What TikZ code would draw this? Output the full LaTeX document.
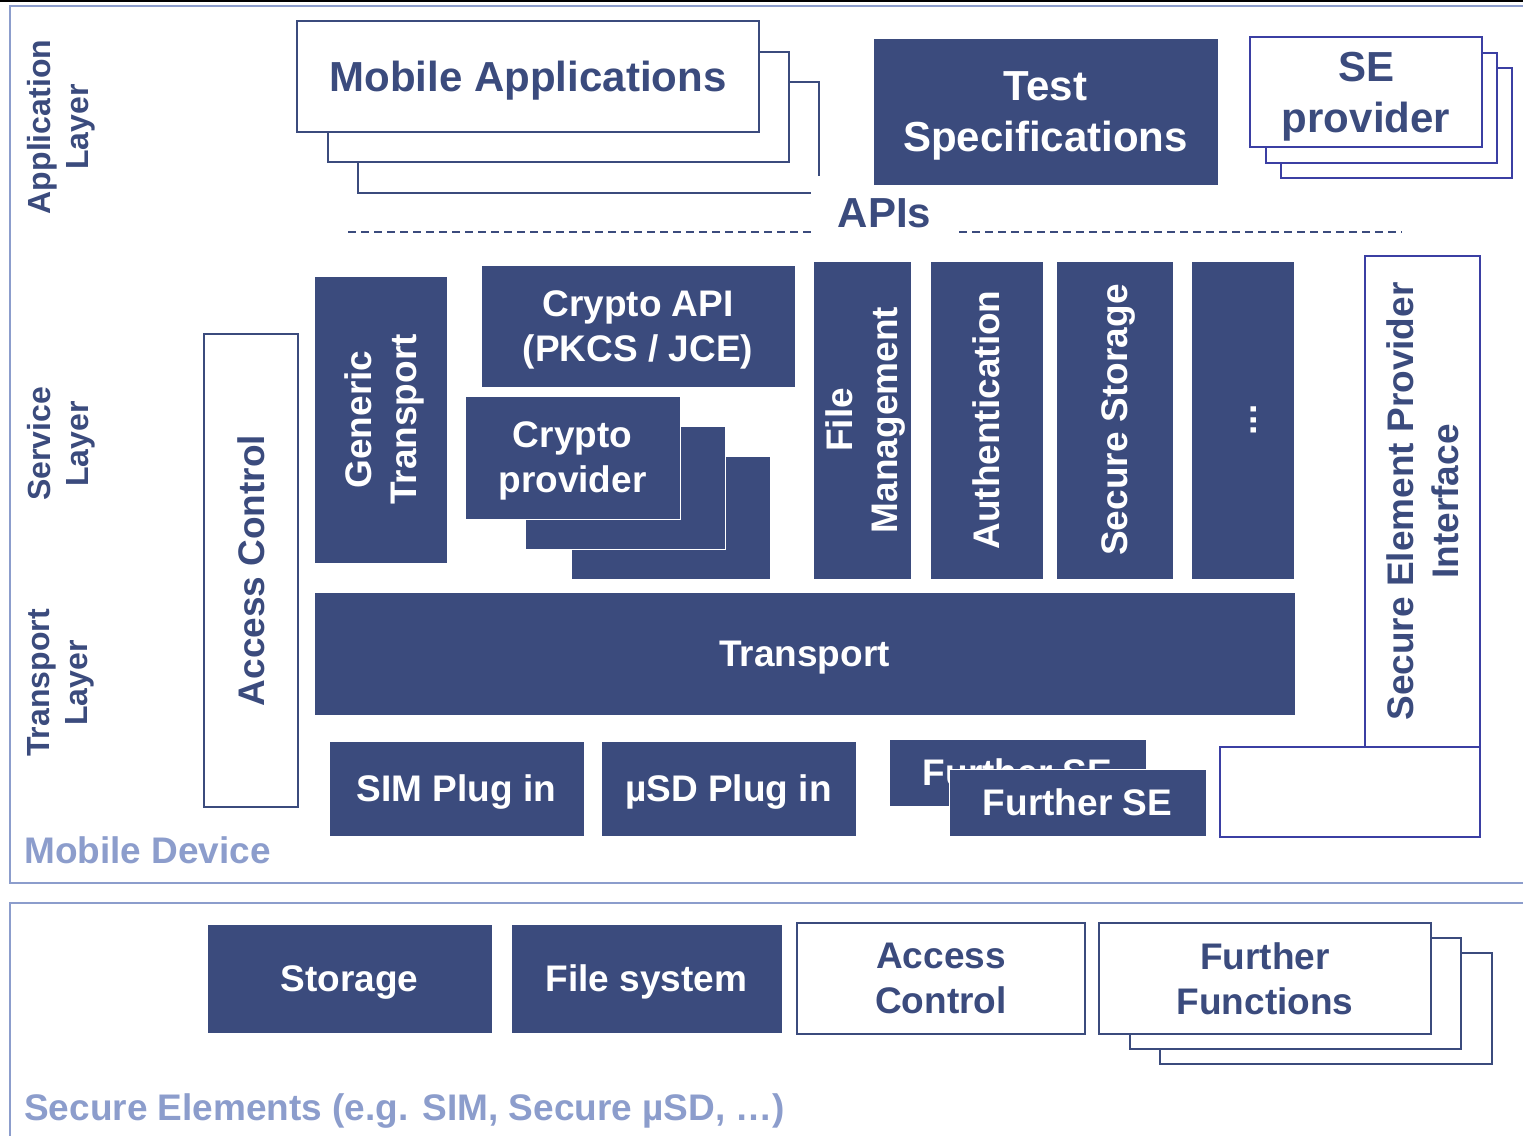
\documentclass[tikz,border=0pt]{standalone}
\usepackage{fontspec}
\setmainfont{Liberation Sans}
\definecolor{navy}{HTML}{3B4B7D}
\definecolor{frameblue}{HTML}{8C9DCC}
\definecolor{violetblue}{HTML}{3B3FA3}

\tikzset{
  sz/.style 2 args={minimum width=#1pt, minimum height=#2pt},
  box/.style={rectangle, inner sep=0pt, align=center, text depth=0pt,
    font=\bfseries\fontsize{37}{45}\selectfont},
  big/.style={font=\bfseries\fontsize{42}{51}\selectfont},
  solidbox/.style={box, fill=navy, draw=white, line width=1pt, text=white},
  openbox/.style={box, fill=white, draw=navy, line width=2pt, text=navy},
  sebox/.style={box, fill=white, draw=violetblue, line width=2pt, text=navy},
  layerlabel/.style={rotate=90, align=center, inner sep=0pt, text=navy,
    font=\bfseries\fontsize{32}{38}\selectfont},
  sectionlabel/.style={anchor=west, inner sep=0pt, text=frameblue,
    font=\bfseries\fontsize{37}{44}\selectfont},
  frame/.style={draw=frameblue, line width=2pt},
}

\begin{document}
\begin{tikzpicture}[x=1pt, y=-1pt]
  \useasboundingbox (0,0) rectangle (1523,1135);
  \clip (0,0) rectangle (1523,1135);

  % outer frames
  \draw[black, line width=2pt] (0,1) -- (1523,1);
  \draw[frame] (10,6) rectangle (1540,883);
  \draw[frame] (10,903) rectangle (1540,1150);

  % layer captions
  \node[layerlabel] (lapp) at (61,127) {Application\\Layer};
  \node[layerlabel] (lsvc) at (61,444) {Service\\Layer};
  \node[layerlabel] (ltrp) at (61,683) {Transport\\Layer};

  % application layer
  \node[openbox, sz={461}{111}] (ma3) at (588.5,137.5) {};
  \node[openbox, sz={461}{110}] (ma2) at (558.5,107) {};
  \node[openbox, big, sz={462}{111}] (ma1) at (528,76.5) {Mobile Applications};

  \coordinate (apiL) at (348,232);
  \coordinate (apiR) at (1402,232);
  \draw[navy, line width=1.5pt, dash pattern=on 8pt off 5pt] (apiL) -- (apiR);
  \node[fill=white, inner sep=0pt, text=navy, big, text depth=0pt, sz={147}{74}] (apis) at (884.5,213) {APIs};

  \node[solidbox, big, sz={345}{147}] (tspec) at (1045.5,111.5) {Test\\Specifications};

  \node[sebox, sz={231}{110}] (se3) at (1396.5,123) {};
  \node[sebox, sz={231}{110}] (se2) at (1381.5,108) {};
  \node[sebox, big, sz={232}{110}] (se1) at (1366,92) {SE\\provider};

  % service layer
  \node[openbox, rotate=90, sz={473}{94}] (acm) at (251,570.5) {Access Control};
  \node[solidbox, rotate=90, sz={287}{133}] (gtr) at (380.5,419.5) {Generic\\Transport};
  \node[solidbox, sz={314}{122}] (capi) at (638,326) {Crypto API\\(PKCS / JCE)};

  \node[solidbox, sz={199}{123}] (cp3) at (670.5,517.5) {};
  \node[solidbox, sz={200}{123}] (cp2) at (625,487.5) {};
  \node[solidbox, sz={215}{123}] (cp1) at (572.5,457.5) {Crypto\\provider};

  \node[solidbox, rotate=90, sz={318}{98}]  (fmgmt) at (862,420) {File\\Management};
  \node[solidbox, rotate=90, sz={318}{113}] (auth)  at (986.5,420) {Authentication};
  \node[solidbox, rotate=90, sz={318}{117}] (sstor) at (1114.5,420) {Secure Storage};
  \node[solidbox, rotate=90, text height=27pt, sz={318}{103}] (more) at (1242.5,420) {...};

  \node[sebox, rotate=90, sz={491}{115}] (sepi) at (1422.5,501.5) {Secure Element Provider\\Interface};
  \node[sebox, sz={260}{90}] (sepb) at (1350,792) {};

  % transport layer
  \node[solidbox, sz={981}{123}] (trp) at (804.5,653.5) {Transport};
  \node[solidbox, sz={255}{95}] (sim) at (456.5,788.5) {SIM Plug in};
  \node[solidbox, sz={255}{95}] (usd) at (728.5,788.5) {µSD Plug in};
  \node[solidbox, sz={257}{67}] (fse2) at (1017.5,772.5) {Further SE};
  \node[solidbox, sz={257}{67}] (fse1) at (1077.5,802.5) {Further SE};

  \node[sectionlabel] (mdev) at (24,850) {Mobile Device};

  % secure elements
  \node[solidbox, sz={285}{109}] (stor) at (349.5,978.5) {Storage};
  \node[solidbox, sz={271}{109}] (fsys) at (646.5,978.5) {File system};
  \node[openbox, sz={288}{111}] (acse) at (941,978.5) {Access\\Control};

  \node[openbox, sz={332}{111}] (ff3) at (1326,1008.5) {};
  \node[openbox, sz={331}{111}] (ff2) at (1295.5,993.5) {};
  \node[openbox, sz={332}{111}] (ff1) at (1265,978.5) {Further\\Functions};

  \node[sectionlabel] (selab) at (24,1111) {Secure Elements (e.g. SIM, Secure µSD, …)};
\end{tikzpicture}
\end{document}
